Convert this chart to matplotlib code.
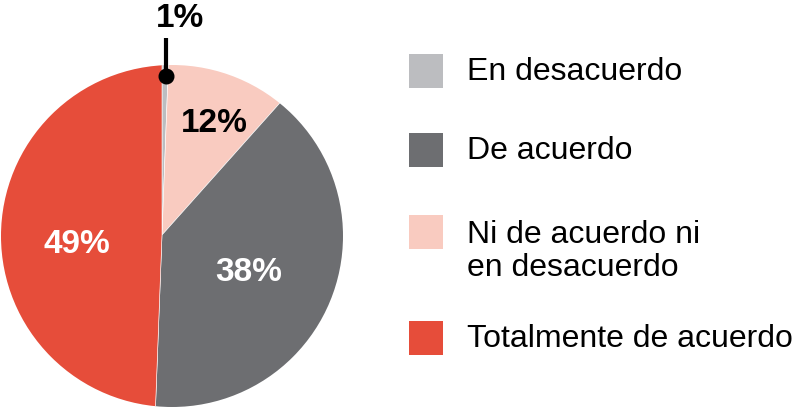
import numpy as np
import matplotlib
matplotlib.use('Agg')
import matplotlib.pyplot as plt
from matplotlib.patches import Circle, Rectangle

plt.rcParams['font.family'] = ['Liberation Sans', 'DejaVu Sans']

# data
labels = ['En desacuerdo', 'De acuerdo', 'Ni de acuerdo ni\nen desacuerdo', 'Totalmente de acuerdo']
pct_text = ['1%', '38%', '12%', '49%']       # printed labels
shares = [0.6, 39.0, 11.0, 49.4]            # slice sizes as drawn in the picture
pie_order = [0, 2, 1, 3]                    # clockwise from 12 o'clock
colors = ['#bcbdc0', '#6d6e71', '#f9cbc0', '#e64d3a']
pct_colors = ['black', 'white', 'black', 'white']
pct_dist = [0.0, 0.555, 0.72, 0.50]         # label distance (fraction of radius)
pct_nudge = [0.0, 1.6, 3.0, -7.7]           # clockwise shift of label angle, degrees

W, H = 803, 408
fig = plt.figure(figsize=(W / 100, H / 100), dpi=100)
ax = fig.add_axes([0, 0, 1, 1])

vertex = (162, 173)   # where the slices meet (pixels, y up)
R = 171
clip = Circle((172, 172), R, transform=ax.transData)

vals = [shares[i] for i in pie_order]
cols = [colors[i] for i in pie_order]
wedges, _ = ax.pie(vals, colors=cols, startangle=90, counterclock=False,
                   center=vertex, radius=200,
                   wedgeprops=dict(edgecolor='white', linewidth=0.4))
for w in wedges:
    w.set_clip_on(True)
    w.set_clip_path(clip)

for w, i in zip(wedges, pie_order):
    mid = np.deg2rad((w.theta1 + w.theta2) / 2 - pct_nudge[i])
    if i == 0:
        # small slice: label above with a leader line
        px = vertex[0] + 159 * np.cos(mid) + 1
        py = vertex[1] + 159 * np.sin(mid)
        ax.plot([px, px], [py, py + 38], color='black', lw=3, solid_capstyle='butt')
        ax.plot(px, py, 'o', color='black', ms=10.5)
        ax.text(px + 14, py + 58, pct_text[i], ha='center', va='center',
                fontsize=24, fontweight='bold', color=pct_colors[i])
        continue
    d = pct_dist[i] * R
    ax.text(vertex[0] + d * np.cos(mid), vertex[1] + d * np.sin(mid),
            pct_text[i], ha='center', va='center',
            fontsize=24, fontweight='bold', color=pct_colors[i])

# legend
leg_y = [337, 258, 176, 70]   # centre of each square (pixels, y up)
for lab, col, y in zip(labels, colors, leg_y):
    ax.add_patch(Rectangle((409, y - 17), 34, 34, color=col, lw=0))
    if '\n' in lab:
        ax.text(467, y + 12, lab, ha='left', va='top', fontsize=23,
                linespacing=1.15, color='black')
    else:
        ax.text(467, y - 1, lab, ha='left', va='center', fontsize=23, color='black')

ax.set_xlim(0, W)
ax.set_ylim(0, H)
ax.set_aspect('equal')
ax.axis('off')

fig.savefig('out.png', dpi=100)
